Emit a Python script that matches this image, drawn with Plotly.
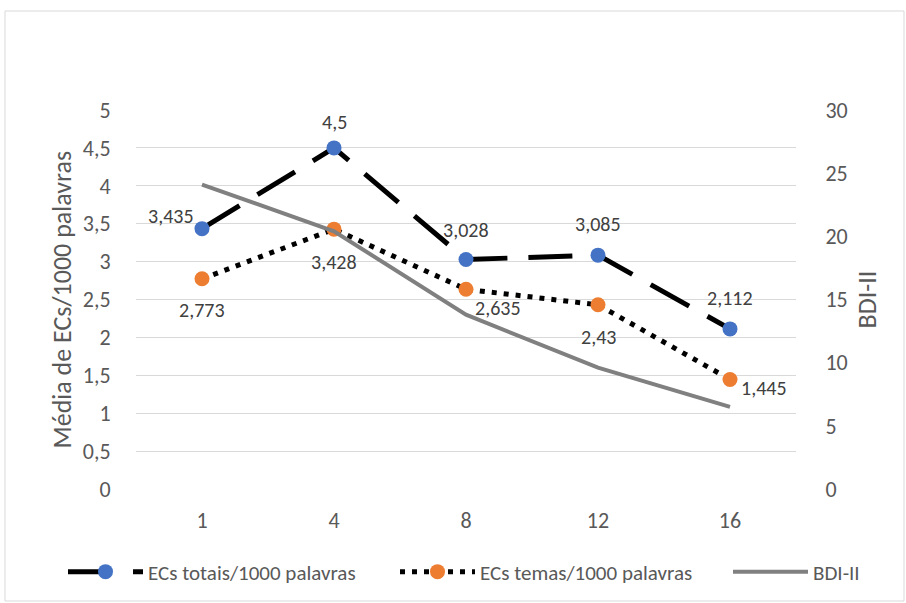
import plotly.graph_objects as go

categories = ["1", "4", "8", "12", "16"]
ecs_totais = [3.435, 4.5, 3.028, 3.085, 2.112]
ecs_temas = [2.773, 3.428, 2.635, 2.43, 1.445]
bdi = [24.1, 20.4, 13.8, 9.6, 6.5]

left_ticks = [0, 0.5, 1, 1.5, 2, 2.5, 3, 3.5, 4, 4.5, 5]
right_ticks = [0, 5, 10, 15, 20, 25, 30]

# label offsets (pixels) relative to each point
tot_label_shift = [(-31, 13), (0, 26), (0, 29), (0, 31), (0, 31)]
tem_label_shift = [(0, -31), (0, -33), (32, -19), (0, -32), (34, -9)]

def fmt(v):
    return ("%g" % v).replace(".", ",")

FONT = "Carlito, Lato, Roboto, Liberation Sans, sans-serif"
TXT = "#404040"
AX = "#595959"

l, r, t, b = 136, 110, 110, 114
W, H = 906, 603
pw, ph = W - l - r, H - t - b

fig = go.Figure()

fig.add_trace(go.Scatter(
    x=categories, y=bdi, name="BDI-II", mode="lines",
    line=dict(color="#808080", width=4), yaxis="y2", legend="legend3",
    cliponaxis=False))

fig.add_trace(go.Scatter(
    x=categories, y=ecs_totais, name="ECs totais/1000 palavras",
    mode="lines+markers",
    line=dict(color="black", width=5, dash="44px,21px"),
    marker=dict(color="#4472C4", size=15), legend="legend",
    cliponaxis=False))

fig.add_trace(go.Scatter(
    x=categories, y=ecs_temas, name="ECs temas/1000 palavras",
    mode="lines+markers",
    line=dict(color="black", width=5, dash="5px,7px"),
    marker=dict(color="#ED7D31", size=15), legend="legend2",
    cliponaxis=False))

annotations = []
# on a category axis, annotation x is the category index
for i, (v, (dx, dy)) in enumerate(zip(ecs_totais, tot_label_shift)):
    annotations.append(dict(x=i, y=v, xref="x", yref="y", text=fmt(v), showarrow=False,
                            xshift=dx, yshift=dy, xanchor="center", yanchor="middle",
                            font=dict(size=20, color=TXT, family=FONT)))
for i, (v, (dx, dy)) in enumerate(zip(ecs_temas, tem_label_shift)):
    annotations.append(dict(x=i, y=v, xref="x", yref="y", text=fmt(v), showarrow=False,
                            xshift=dx, yshift=dy, xanchor="center", yanchor="middle",
                            font=dict(size=20, color=TXT, family=FONT)))
annotations += [
    dict(text="Média de ECs/1000 palavras", xref="paper", yref="paper",
         x=(61 - l) / pw, y=0.5, xanchor="center", yanchor="middle",
         textangle=-90, showarrow=False, font=dict(size=26, color=AX, family=FONT)),
    dict(text="BDI-II", xref="paper", yref="paper",
         x=(866 - l) / pw, y=0.5, xanchor="center", yanchor="middle",
         textangle=-90, showarrow=False, font=dict(size=26, color=AX, family=FONT)),
]

ly = -(572 - 489) / ph
leg_common = dict(orientation="h", xanchor="left", y=ly, yanchor="middle",
                  font=dict(size=21, color=AX, family=FONT),
                  itemwidth=75, bgcolor="rgba(0,0,0,0)")

fig.update_layout(
    width=W, height=H,
    margin=dict(l=l, r=r, t=t, b=b, autoexpand=False),
    paper_bgcolor="white", plot_bgcolor="white",
    font=dict(family=FONT, color=TXT, size=21),
    xaxis=dict(type="category", range=[-0.5, 4.5], automargin=False,
               showgrid=False, showline=False, zeroline=False,
               ticks="outside", ticklen=12, tickcolor="white",
               tickfont=dict(size=22, color=AX)),
    yaxis=dict(range=[0, 5], tickvals=left_ticks, ticktext=[fmt(v) for v in left_ticks],
               automargin=False,
               showgrid=True, gridcolor="#d9d9d9", gridwidth=1, zeroline=False,
               tickfont=dict(size=22, color=AX), ticklen=20, ticks="outside", tickcolor="white"),
    yaxis2=dict(range=[0, 30], tickvals=right_ticks, overlaying="y", side="right",
                automargin=False,
                showgrid=False, zeroline=False, ticks="outside", ticklen=24, tickcolor="white",
                tickfont=dict(size=22, color=AX)),
    legend=dict(x=(63 - l) / pw, **leg_common),
    legend2=dict(x=(395 - l) / pw, **leg_common),
    legend3=dict(x=(728 - l) / pw, **leg_common),
    showlegend=True,
    annotations=annotations,
)

fig.add_shape(type="rect", xref="paper", yref="paper",
              x0=(5 - l) / pw, x1=(904 - l) / pw,
              y0=(t + ph - 601) / ph, y1=(t + ph - 11) / ph,
              line=dict(color="#d9d9d9", width=1), layer="below")

fig.write_html("out.html", config={"displayModeBar": False},
               post_script="document.body.style.margin='0px';")
